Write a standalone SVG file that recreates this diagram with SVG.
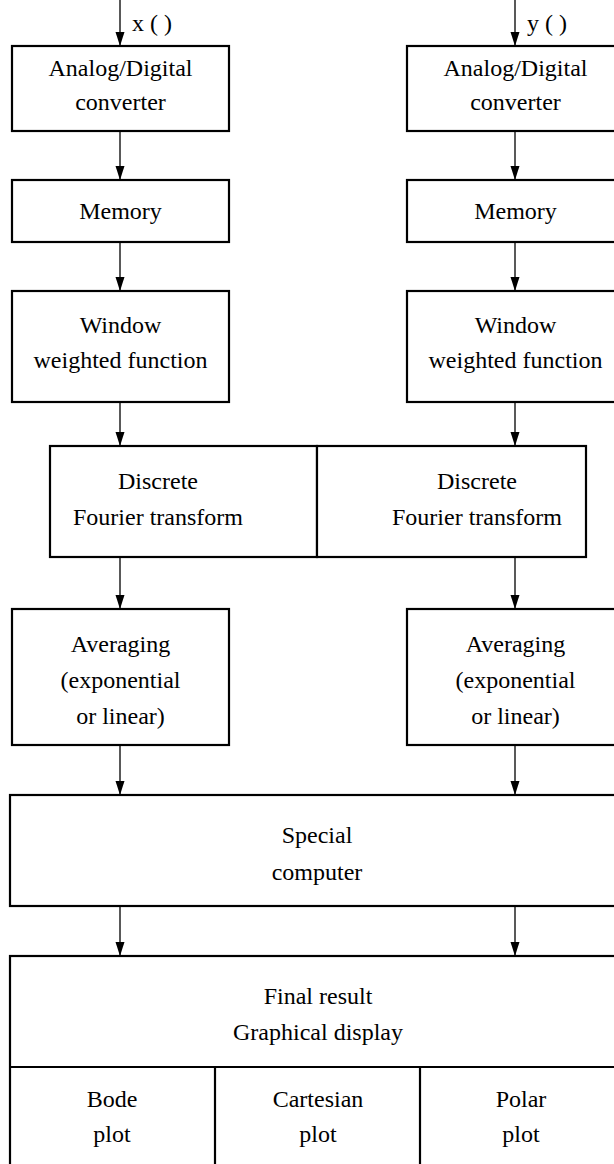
<svg xmlns="http://www.w3.org/2000/svg" width="614" height="1164" viewBox="0 0 614 1164">
<style>
.box{fill:#fff;stroke:#000;stroke-width:2.2}
.div{stroke:#000;stroke-width:2.2;fill:none}
.t{font-family:"Liberation Serif","Times New Roman",serif;font-size:24px;fill:#000;text-anchor:middle}
.lbl{font-family:"Liberation Serif","Times New Roman",serif;font-size:24px;fill:#000}
.c{stroke:#222;stroke-width:1.5;fill:none;marker-end:url(#ah)}
</style>
<defs>
<marker id="ah" markerUnits="userSpaceOnUse" markerWidth="14" markerHeight="10" refX="14" refY="5" orient="auto">
<path d="M0,0.5 L14,5 L0,9.5 z" fill="#000"/>
</marker>
</defs>
<rect width="614" height="1164" fill="#fff"/>
<g id="connectors">
<line class="c" x1="120" y1="0" x2="120" y2="46"/>
<line class="c" x1="515" y1="0" x2="515" y2="46"/>
<line class="c" x1="120" y1="131" x2="120" y2="180"/>
<line class="c" x1="515" y1="131" x2="515" y2="180"/>
<line class="c" x1="120" y1="242" x2="120" y2="291"/>
<line class="c" x1="515" y1="242" x2="515" y2="291"/>
<line class="c" x1="120" y1="402" x2="120" y2="446"/>
<line class="c" x1="515" y1="402" x2="515" y2="446"/>
<line class="c" x1="120" y1="557" x2="120" y2="609"/>
<line class="c" x1="515" y1="557" x2="515" y2="609"/>
<line class="c" x1="120" y1="745" x2="120" y2="795"/>
<line class="c" x1="515" y1="745" x2="515" y2="795"/>
<line class="c" x1="120" y1="906" x2="120" y2="956"/>
<line class="c" x1="515" y1="906" x2="515" y2="956"/>
<text class="lbl" x="132" y="31">x ( )</text>
<text class="lbl" x="527" y="31">y ( )</text>
</g>
<g id="ad-x"><rect class="box" x="12" y="46" width="217" height="85"/><text class="t" x="120.5" y="76">Analog/Digital</text><text class="t" x="120.5" y="110">converter</text></g>
<g id="ad-y"><rect class="box" x="407" y="46" width="217" height="85"/><text class="t" x="515.5" y="76">Analog/Digital</text><text class="t" x="515.5" y="110">converter</text></g>
<g id="mem-x"><rect class="box" x="12" y="180" width="217" height="62"/><text class="t" x="120.5" y="219">Memory</text></g>
<g id="mem-y"><rect class="box" x="407" y="180" width="217" height="62"/><text class="t" x="515.5" y="219">Memory</text></g>
<g id="win-x"><rect class="box" x="12" y="291" width="217" height="111"/><text class="t" x="120.5" y="333">Window</text><text class="t" x="120.5" y="368">weighted function</text></g>
<g id="win-y"><rect class="box" x="407" y="291" width="217" height="111"/><text class="t" x="515.5" y="333">Window</text><text class="t" x="515.5" y="368">weighted function</text></g>
<g id="dft-x"><rect class="box" x="50" y="446" width="267" height="111"/><text class="t" x="158" y="489">Discrete</text><text class="t" x="158" y="525">Fourier transform</text></g>
<g id="dft-y"><rect class="box" x="317" y="446" width="269" height="111"/><text class="t" x="477" y="489">Discrete</text><text class="t" x="477" y="525">Fourier transform</text></g>
<g id="avg-x"><rect class="box" x="12" y="609" width="217" height="136"/><text class="t" x="120.5" y="652">Averaging</text><text class="t" x="120.5" y="688">(exponential</text><text class="t" x="120.5" y="724">or linear)</text></g>
<g id="avg-y"><rect class="box" x="407" y="609" width="217" height="136"/><text class="t" x="515.5" y="652">Averaging</text><text class="t" x="515.5" y="688">(exponential</text><text class="t" x="515.5" y="724">or linear)</text></g>
<g id="special"><rect class="box" x="10" y="795" width="614" height="111"/><text class="t" x="317" y="843">Special</text><text class="t" x="317" y="880">computer</text></g>
<g id="final"><rect class="box" x="10" y="956" width="614" height="220"/><line class="div" x1="10" y1="1067" x2="624" y2="1067"/><text class="t" x="318" y="1004">Final result</text><text class="t" x="318" y="1040">Graphical display</text></g>
<g id="bode"><line class="div" x1="215" y1="1067" x2="215" y2="1176"/><text class="t" x="112" y="1107">Bode</text><text class="t" x="112" y="1142">plot</text></g>
<g id="cartesian"><line class="div" x1="420" y1="1067" x2="420" y2="1176"/><text class="t" x="318" y="1107">Cartesian</text><text class="t" x="318" y="1142">plot</text></g>
<g id="polar"><text class="t" x="521" y="1107">Polar</text><text class="t" x="521" y="1142">plot</text></g>
</svg>
